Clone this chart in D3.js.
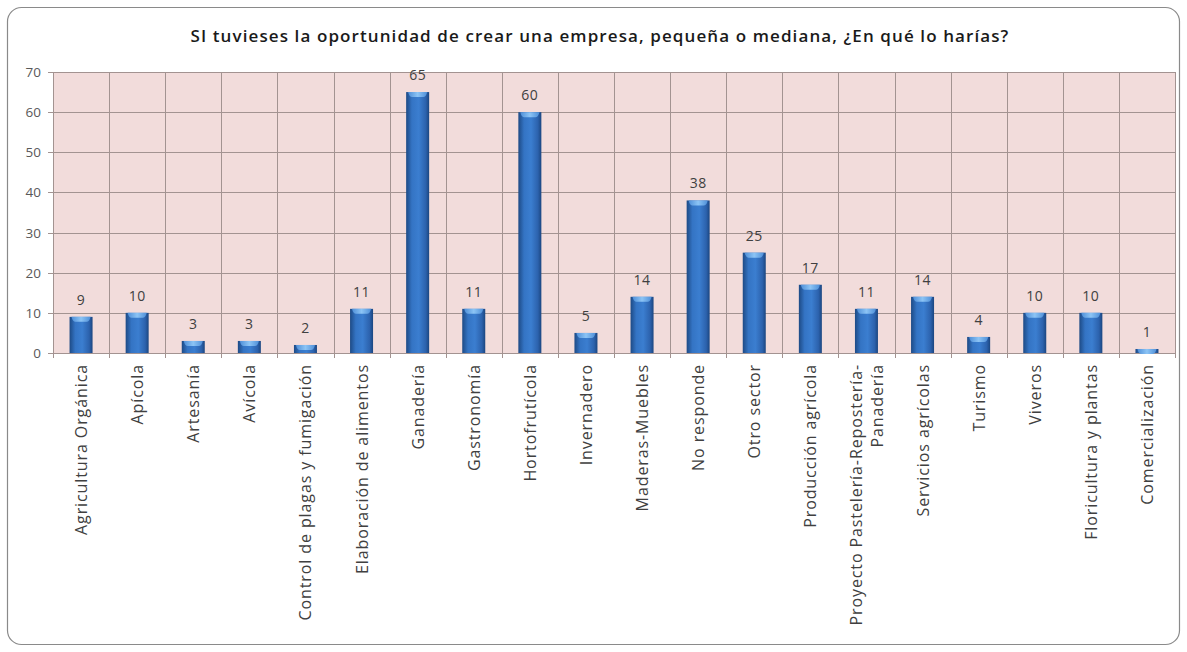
<!DOCTYPE html>
<html><head><meta charset="utf-8">
<script src="https://cdn.jsdelivr.net/npm/d3@7"></script>
<style>body{margin:0;background:#fff;}svg{display:block;}</style>
</head><body>
<script>
const title = "SI tuvieses la oportunidad de crear una empresa, pequeña o mediana, ¿En qué lo harías?";
const categories = ["Agricultura Orgánica","Apícola","Artesanía","Avícola","Control de plagas y fumigación","Elaboración de alimentos","Ganadería","Gastronomía","Hortofrutícola","Invernadero","Maderas-Muebles","No responde","Otro sector","Producción agrícola","Proyecto Pastelería-Repostería-|Panadería","Servicios agrícolas","Turismo","Viveros","Floricultura y plantas","Comercialización"];
const values = [9,10,3,3,2,11,65,11,60,5,14,38,25,17,11,14,4,10,10,1];
const yTicks = [0,10,20,30,40,50,60,70];

const W = 1187, H = 652;
const m = {left:53, right:1175, top:72, bottom:353};
const svg = d3.select("body").append("svg").attr("width",W).attr("height",H);
const font = "'Open Sans', Lato, sans-serif";

const defs = svg.append("defs");
const g1 = defs.append("linearGradient").attr("id","barg").attr("x1","0").attr("x2","1").attr("y1","0").attr("y2","0");
[["0%","#1d4a85"],["25%","#3474c4"],["55%","#3b7ed0"],["85%","#2c62ad"],["100%","#1b4680"]].forEach(s=>g1.append("stop").attr("offset",s[0]).attr("stop-color",s[1]));
const g2 = defs.append("linearGradient").attr("id","capg").attr("x1","0").attr("x2","1").attr("y1","0").attr("y2","0");
[["0%","#4f8fd8"],["50%","#8cc4f5"],["100%","#4f8fd8"]].forEach(s=>g2.append("stop").attr("offset",s[0]).attr("stop-color",s[1]));

svg.append("rect").attr("x",7.5).attr("y",7.5).attr("width",1172).attr("height",637).attr("rx",14)
  .attr("fill","#fff").attr("stroke","#8a8a8a").attr("stroke-width",1.2);

svg.append("text").attr("x",600).attr("y",42).attr("text-anchor","middle")
  .attr("font-family",font).attr("font-size",17).attr("font-weight",600).attr("letter-spacing",1.1).attr("fill","#1a1a1a").text(title);

const x = d3.scaleBand().domain(categories).range([m.left,m.right]).paddingInner(0).paddingOuter(0);
const y = d3.scaleLinear().domain([0,70]).range([m.bottom,m.top]);

svg.append("rect").attr("x",m.left).attr("y",m.top).attr("width",m.right-m.left).attr("height",m.bottom-m.top).attr("fill","#f2dcdb");

const grid = svg.append("g").attr("stroke","#a39391").attr("stroke-width",1);
yTicks.forEach(t=>grid.append("line").attr("x1",m.left-5).attr("x2",m.right).attr("y1",Math.round(y(t))+0.5).attr("y2",Math.round(y(t))+0.5));
categories.forEach((c,i)=>{const xx=Math.round(x(c))+0.5; grid.append("line").attr("x1",xx).attr("x2",xx).attr("y1",m.top).attr("y2",m.bottom+5);});
grid.append("line").attr("x1",m.right+0.5).attr("x2",m.right+0.5).attr("y1",m.top).attr("y2",m.bottom+5);

svg.append("g").selectAll("text").data(yTicks).join("text")
  .attr("x",m.left-12).attr("y",d=>y(d)+5).attr("text-anchor","end")
  .attr("font-family",font).attr("font-size",13.5).attr("fill","#595959").text(d=>d);

const bw = 23;
const bars = svg.append("g");
categories.forEach((c,i)=>{
  const cx = x(c)+x.bandwidth()/2;
  const v = values[i];
  bars.append("rect").attr("x",cx-bw/2).attr("y",y(v)).attr("width",bw).attr("height",y(0)-y(v)).attr("fill","url(#barg)");
  bars.append("path").attr("d",`M${cx-bw/2+2},${y(v)} L${cx+bw/2-2},${y(v)} Q${cx+bw/2-3},${y(v)+5} ${cx+bw/2-6},${y(v)+5} L${cx-bw/2+6},${y(v)+5} Q${cx-bw/2+3},${y(v)+5} ${cx-bw/2+2},${y(v)} Z`).attr("fill","url(#capg)");
  bars.append("text").attr("x",cx).attr("y",y(v)-12).attr("text-anchor","middle")
    .attr("font-family",font).attr("font-size",14).attr("letter-spacing",0.5).attr("fill","#404040").text(v);
});

const labs = svg.append("g");
categories.forEach((c,i)=>{
  const cx = x(c)+x.bandwidth()/2;
  const lines = c.split("|");
  const t = labs.append("text").attr("transform",`translate(${cx},364) rotate(-90)`)
    .attr("text-anchor","end").attr("font-family",font).attr("font-size",16)
    .attr("letter-spacing",0.9).attr("fill","#404040");
  const n = lines.length;
  lines.forEach((l,j)=>{
    t.append("tspan").attr("x",0).attr("y",(j-(n-1)/2)*21+6).text(l);
  });
});
</script>
</body></html>
